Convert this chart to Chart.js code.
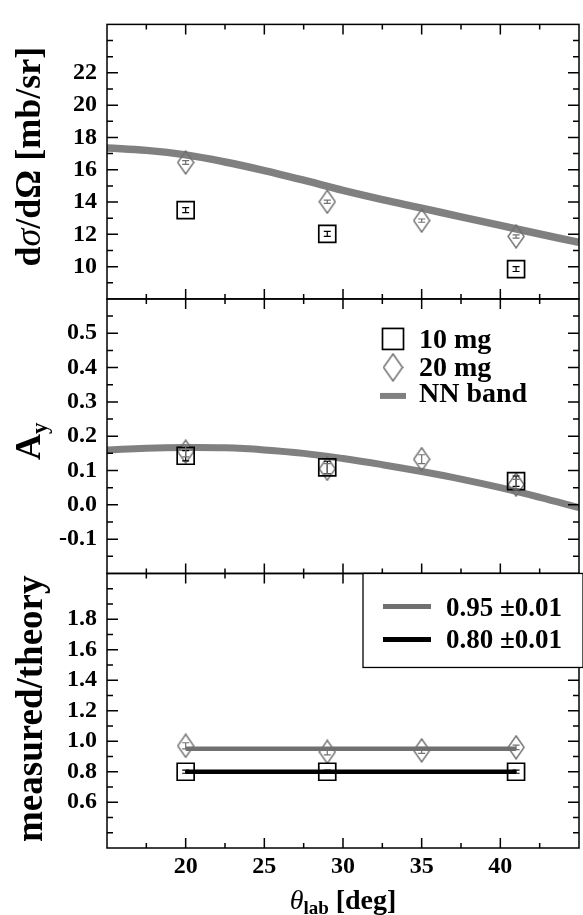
<!DOCTYPE html>
<html>
<head>
<meta charset="utf-8">
<script src="https://cdn.jsdelivr.net/npm/chart.js@4.4.1/dist/chart.umd.min.js"></script>
<style>
    html, body { margin: 0; padding: 0; background: #fff; }
    #chart { display: block; }
</style>
</head>
<body>
<canvas id="chart" width="583" height="915"></canvas>
<script>
// ---- data ----
const angles10mg = [20, 29, 41];
const angles20mg = [20, 29, 35, 41];
const bandAngles = [15, 17.5, 20, 22.5, 25, 27.5, 30, 32.5, 35, 37.5, 40, 42.5, 45];
const fitAngles = [20, 41];

// cross section dσ/dΩ [mb/sr]
const cs10mg = [13.5, 12.03, 9.85];
const cs10mgErr = [0.15, 0.15, 0.15];
const cs20mg = [16.45, 14.02, 12.85, 11.87];
const cs20mgErr = [0.12, 0.1, 0.1, 0.1];
const csBand = [17.35, 17.2, 16.92, 16.48, 15.95, 15.35, 14.72, 14.15, 13.62, 13.08, 12.55, 12.02, 11.5];

// analysing power A_y
const ay10mg = [0.143, 0.109, 0.069];
const ay10mgErr = [0.015, 0.018, 0.015];
const ay20mg = [0.155, 0.105, 0.133, 0.059];
const ay20mgErr = [0.015, 0.015, 0.013, 0.015];
const ayBand = [0.160, 0.165, 0.167, 0.166, 0.160, 0.150, 0.135, 0.117, 0.097, 0.075, 0.050, 0.022, -0.008];

// measured / theory
const ratio10mg = [0.80, 0.80, 0.80];
const ratio10mgErr = [0.01, 0.01, 0.01];
const ratio20mg = [0.97, 0.93, 0.94, 0.96];
const ratio20mgErr = [0.02, 0.02, 0.02, 0.015];
const fit20mg = [0.95, 0.95];
const fit10mg = [0.80, 0.80];

// tick labels
const angleTicks = [20, 25, 30, 35, 40];
const csTicks = [10, 12, 14, 16, 18, 20, 22];
const ayTicks = [-0.1, 0, 0.1, 0.2, 0.3, 0.4, 0.5];
const ratioTicks = [0.6, 0.8, 1.0, 1.2, 1.4, 1.6, 1.8];

// legend labels
const seriesLabels = ['10 mg', '20 mg', 'NN band'];
const fitLabels = ['0.95 \u00b10.01', '0.80 \u00b10.01'];

const SERIF = '"Liberation Serif", "Times New Roman", serif';
const GRAY = '#707070';
const BAND_GRAY = '#808080';

Chart.defaults.font.family = SERIF;
Chart.defaults.color = '#000';

function pts(xs, ys) {
    return xs.map((x, i) => ({ x: x, y: ys[i] }));
}

function isLabelled(list, v) {
    return list.some(t => Math.abs(t - v) < 1e-6);
}

function makeDiamond(w, h, color, lw) {
    const c = document.createElement('canvas');
    c.width = w;
    c.height = h;
    const g = c.getContext('2d');
    g.strokeStyle = color;
    g.lineWidth = lw;
    g.beginPath();
    g.moveTo(w / 2, 1);
    g.lineTo(w - 1, h / 2);
    g.lineTo(w / 2, h - 1);
    g.lineTo(1, h / 2);
    g.closePath();
    g.stroke();
    return c;
}

const diamond = makeDiamond(18, 25, GRAY, 1.4);

function squareSet(xs, ys, errs, axis) {
    return {
        data: pts(xs, ys),
        errors: errs,
        errColor: '#000',
        yAxisID: axis,
        showLine: false,
        pointStyle: 'rect',
        pointRadius: 12,
        pointBorderColor: '#000',
        pointBorderWidth: 1.7,
        pointBackgroundColor: 'rgba(0,0,0,0)'
    };
}

function diamondSet(xs, ys, errs, axis) {
    return {
        data: pts(xs, ys),
        errors: errs,
        errColor: GRAY,
        yAxisID: axis,
        showLine: false,
        pointStyle: diamond,
        pointRadius: 12
    };
}

function lineSet(xs, ys, axis, color, width) {
    return {
        data: pts(xs, ys),
        yAxisID: axis,
        borderColor: color,
        borderWidth: width,
        pointRadius: 0,
        fill: false,
        tension: 0.4
    };
}

// ---- plugins ----
const errorBars = {
    id: 'errorBars',
    afterDatasetsDraw(chart) {
        const ctx = chart.ctx;
        ctx.save();
        chart.data.datasets.forEach((ds, i) => {
            if (!ds.errors) return;
            const meta = chart.getDatasetMeta(i);
            const ys = chart.scales[meta.yAxisID];
            ctx.strokeStyle = ds.errColor;
            ctx.lineWidth = 1.2;
            meta.data.forEach((pt, j) => {
                const v = ds.data[j].y;
                const y1 = ys.getPixelForValue(v + ds.errors[j]);
                const y2 = ys.getPixelForValue(v - ds.errors[j]);
                ctx.beginPath();
                ctx.moveTo(pt.x, y1); ctx.lineTo(pt.x, y2);
                ctx.moveTo(pt.x - 3.5, y1); ctx.lineTo(pt.x + 3.5, y1);
                ctx.moveTo(pt.x - 3.5, y2); ctx.lineTo(pt.x + 3.5, y2);
                ctx.stroke();
            });
        });
        ctx.restore();
    }
};

function drawSegments(ctx, segs, x, y, rotate) {
    ctx.save();
    ctx.translate(x, y);
    if (rotate) ctx.rotate(-Math.PI / 2);
    ctx.textAlign = 'left';
    ctx.textBaseline = 'alphabetic';
    ctx.fillStyle = '#000';
    let total = 0;
    segs.forEach(s => { ctx.font = s.font; total += ctx.measureText(s.text).width; });
    let cx = -total / 2;
    segs.forEach(s => {
        ctx.font = s.font;
        ctx.fillText(s.text, cx, s.dy || 0);
        cx += ctx.measureText(s.text).width;
    });
    ctx.restore();
}

const framePlugin = {
    id: 'frame',
    afterDraw(chart) {
        const ctx = chart.ctx;
        const x = chart.scales.x;
        const panels = [
            [chart.scales.yTop, csTicks],
            [chart.scales.yMid, ayTicks],
            [chart.scales.yBot, ratioTicks]
        ];
        const left = x.left, right = x.right;
        ctx.save();
        ctx.strokeStyle = '#000';
        ctx.lineWidth = 1.5;
        panels.forEach(([ys, labels]) => {
            const top = ys.top, bottom = ys.bottom;
            ctx.strokeRect(left, top, right - left, bottom - top);
            ctx.beginPath();
            ys.ticks.forEach(t => {
                const py = ys.getPixelForValue(t.value);
                if (py <= top + 1 || py >= bottom - 1) return;
                const len = isLabelled(labels, t.value) ? 11 : 6;
                ctx.moveTo(left, py); ctx.lineTo(left + len, py);
                ctx.moveTo(right, py); ctx.lineTo(right - len, py);
            });
            x.ticks.forEach(t => {
                const px = x.getPixelForValue(t.value);
                if (px <= left + 1 || px >= right - 1) return;
                const len = isLabelled(angleTicks, t.value) ? 10 : 5;
                ctx.moveTo(px, top); ctx.lineTo(px, top + len);
                ctx.moveTo(px, bottom); ctx.lineTo(px, bottom - len);
            });
            ctx.stroke();
        });

        // legend, middle panel
        const mid = chart.scales.yMid;
        const lx = left + 286;
        ctx.lineWidth = 1.7;
        ctx.strokeStyle = '#000';
        ctx.strokeRect(lx - 10.5, mid.top + 29.5, 21, 21);
        ctx.drawImage(makeDiamond(21, 29, GRAY, 1.5), lx - 10.5, mid.top + 54);
        ctx.strokeStyle = BAND_GRAY;
        ctx.lineWidth = 6;
        ctx.beginPath();
        ctx.moveTo(lx - 13, mid.top + 97);
        ctx.lineTo(lx + 13, mid.top + 97);
        ctx.stroke();
        ctx.fillStyle = '#000';
        ctx.font = 'bold 28px ' + SERIF;
        ctx.textAlign = 'left';
        ctx.textBaseline = 'alphabetic';
        ctx.fillText(seriesLabels[0], lx + 26, mid.top + 49);
        ctx.fillText(seriesLabels[1], lx + 26, mid.top + 77);
        ctx.fillText(seriesLabels[2], lx + 26, mid.top + 103);

        // legend box, bottom panel
        const bot = chart.scales.yBot;
        const bx = left + 256;
        ctx.fillStyle = '#fff';
        ctx.fillRect(bx, bot.top, right - bx + 2, 94);
        ctx.strokeStyle = '#000';
        ctx.lineWidth = 1.3;
        ctx.strokeRect(bx, bot.top, right - bx + 4, 94);
        ctx.lineWidth = 5;
        ctx.strokeStyle = GRAY;
        ctx.beginPath();
        ctx.moveTo(bx + 20, bot.top + 33); ctx.lineTo(bx + 68, bot.top + 33);
        ctx.stroke();
        ctx.strokeStyle = '#000';
        ctx.beginPath();
        ctx.moveTo(bx + 20, bot.top + 66); ctx.lineTo(bx + 68, bot.top + 66);
        ctx.stroke();
        ctx.fillStyle = '#000';
        ctx.font = 'bold 27px ' + SERIF;
        ctx.fillText(fitLabels[0], bx + 83, bot.top + 43);
        ctx.fillText(fitLabels[1], bx + 83, bot.top + 75);

        // axis titles
        const top = chart.scales.yTop;
        const B = 'bold 36px ' + SERIF;
        drawSegments(ctx, [
            { text: 'd', font: B },
            { text: '\u03c3', font: 'italic 36px ' + SERIF },
            { text: '/d\u03a9 [mb/sr]', font: B }
        ], 40, (top.top + top.bottom) / 2 - 5, true);
        drawSegments(ctx, [
            { text: 'A', font: B },
            { text: 'y', font: 'bold 23px ' + SERIF, dy: 7 }
        ], 40, (mid.top + mid.bottom) / 2 + 5, true);
        drawSegments(ctx, [
            { text: 'measured/theory', font: 'bold 37px ' + SERIF }
        ], 42, (bot.top + bot.bottom) / 2 - 2, true);
        drawSegments(ctx, [
            { text: '\u03b8', font: 'italic 28px ' + SERIF },
            { text: 'lab', font: 'bold 19px ' + SERIF, dy: 5 },
            { text: ' [deg]', font: 'bold 28px ' + SERIF }
        ], (left + right) / 2, 909, false);
        ctx.restore();
    }
};

function yAxis(min, max, step, labels, digits) {
    return {
        type: 'linear',
        position: 'left',
        stack: 'panels',
        stackWeight: 1,
        min: min,
        max: max,
        grid: { display: false, drawTicks: false, tickLength: 0 },
        border: { display: false },
        ticks: {
            stepSize: step,
            autoSkip: false,
            maxTicksLimit: 100,
            padding: 10,
            font: { size: 24, weight: 'bold' },
            color: '#000',
            callback: v => isLabelled(labels, v) ? Number(v).toFixed(digits) : ''
        },
        afterFit: s => { s.width = 107; }
    };
}

const topAxis = yAxis(8, 25, 1, csTicks, 0);
topAxis.weight = 3;
const midAxis = yAxis(-0.2, 0.6, 0.05, ayTicks, 1);
midAxis.weight = 2;
const botAxis = yAxis(0.3, 2.1, 0.1, ratioTicks, 1);
botAxis.weight = 1;

new Chart(document.getElementById('chart'), {
    type: 'line',
    data: {
        datasets: [
            squareSet(angles10mg, cs10mg, cs10mgErr, 'yTop'),
            diamondSet(angles20mg, cs20mg, cs20mgErr, 'yTop'),
            squareSet(angles10mg, ay10mg, ay10mgErr, 'yMid'),
            diamondSet(angles20mg, ay20mg, ay20mgErr, 'yMid'),
            squareSet(angles10mg, ratio10mg, ratio10mgErr, 'yBot'),
            diamondSet(angles20mg, ratio20mg, ratio20mgErr, 'yBot'),
            lineSet(bandAngles, csBand, 'yTop', BAND_GRAY, 7.5),
            lineSet(bandAngles, ayBand, 'yMid', BAND_GRAY, 7),
            lineSet(fitAngles, fit20mg, 'yBot', GRAY, 4.5),
            lineSet(fitAngles, fit10mg, 'yBot', '#000', 4.5)
        ]
    },
    options: {
        responsive: false,
        animation: false,
        devicePixelRatio: 1,
        layout: { padding: { top: 15, right: 1, left: 0, bottom: 0 }, autoPadding: false },
        plugins: {
            legend: { display: false },
            tooltip: { enabled: false }
        },
        scales: {
            x: {
                type: 'linear',
                position: 'bottom',
                min: 15,
                max: 45,
                grid: { display: false, drawTicks: false, tickLength: 0 },
                border: { display: false },
                ticks: {
                    stepSize: 2.5,
                    autoSkip: false,
                    maxRotation: 0,
                    maxTicksLimit: 100,
                    padding: 4,
                    font: { size: 24, weight: 'bold' },
                    color: '#000',
                    callback: v => isLabelled(angleTicks, v) ? String(v) : ''
                },
                afterFit: s => { s.height = 67; }
            },
            yTop: topAxis,
            yMid: midAxis,
            yBot: botAxis
        }
    },
    plugins: [errorBars, framePlugin]
});
</script>
</body>
</html>
